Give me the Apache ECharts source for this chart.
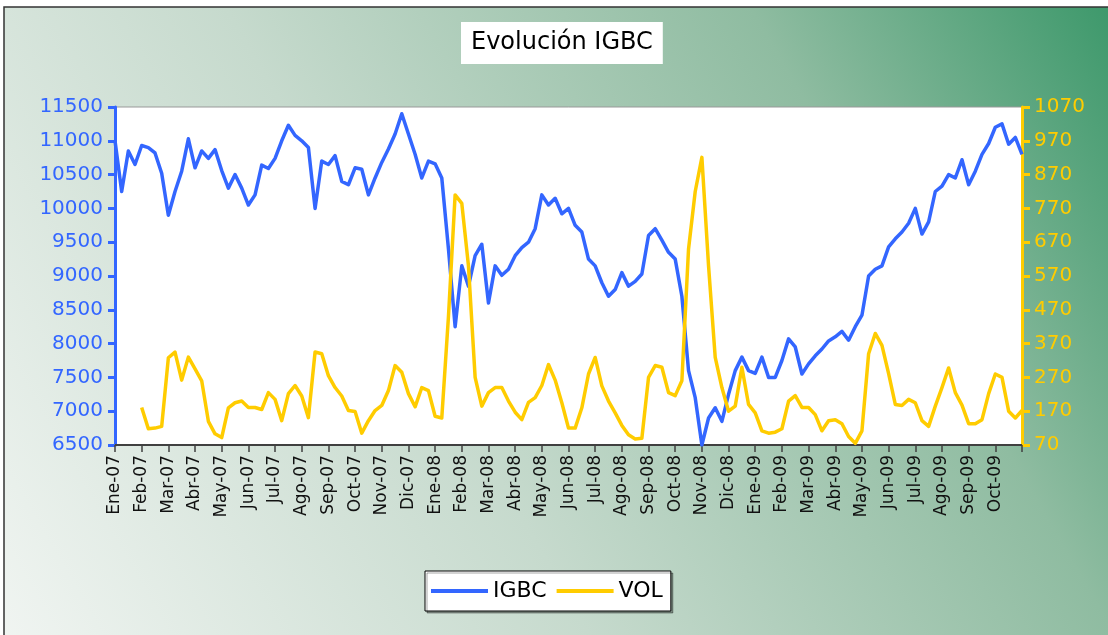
<!DOCTYPE html>
<html>
<head>
<meta charset="utf-8">
<title>Evolución IGBC</title>
<script src="https://cdn.jsdelivr.net/npm/echarts@6/dist/echarts.min.js"></script>
<style>
    html, body { margin: 0; padding: 0; background: #fff; }
    #graphe { width: 1108px; height: 635px; }
</style>
</head>
<body>
<div id="graphe"></div>
<script>
// etiquetas mensuales del eje X (4 puntos por mes)
const meses = ["Ene-07", "Feb-07", "Mar-07", "Abr-07", "May-07", "Jun-07", "Jul-07", "Ago-07", "Sep-07", "Oct-07", "Nov-07", "Dic-07",
    "Ene-08", "Feb-08", "Mar-08", "Abr-08", "May-08", "Jun-08", "Jul-08", "Ago-08", "Sep-08", "Oct-08", "Nov-08", "Dic-08",
    "Ene-09", "Feb-09", "Mar-09", "Abr-09", "May-09", "Jun-09", "Jul-09", "Ago-09", "Sep-09", "Oct-09"];
const puntosPorMes = 4;

const igbc = [
    11000, 10250, 10850, 10650, 10930, 10900, 10820, 10520,
    9900, 10250, 10550, 11030, 10600, 10850, 10740, 10870,
    10560, 10300, 10500, 10300, 10050, 10200, 10640, 10590,
    10740, 11000, 11230, 11080, 11000, 10900, 10000, 10700,
    10650, 10780, 10400, 10350, 10600, 10580, 10200, 10450,
    10680, 10880, 11100, 11400, 11100, 10800, 10450, 10700,
    10660, 10450, 9400, 8250, 9150, 8850, 9300, 9470,
    8600, 9150, 9010, 9100, 9300, 9420, 9500, 9700,
    10200, 10050, 10150, 9920, 10000, 9750, 9650, 9250,
    9150, 8900, 8700, 8800, 9050, 8850, 8920, 9030,
    9600, 9700, 9530, 9350, 9250, 8700, 7600, 7200,
    6500, 6900, 7050, 6850, 7250, 7600, 7800, 7600,
    7560, 7800, 7500, 7500, 7750, 8070, 7950, 7550,
    7700, 7820, 7920, 8040, 8100, 8180, 8050, 8250,
    8420, 9000, 9100, 9150, 9430, 9550, 9650, 9780,
    10000, 9620, 9800, 10250, 10330, 10500, 10450, 10720,
    10350, 10550, 10800, 10960, 11200, 11250, 10950, 11050,
    10800
];

const vol = [
    null, null, null, null, 181, 118, 120, 125,
    328, 345, 262, 330, 295, 260, 140, 103,
    92, 180, 195, 200, 181, 181, 175, 225,
    205, 142, 222, 246, 215, 151, 345, 340,
    275, 240, 215, 172, 169, 105, 142, 172,
    187, 231, 305, 285, 222, 183, 240, 231,
    155, 150, 450, 810, 785, 600, 270, 185,
    225, 240, 240, 200, 167, 145, 196, 210,
    246, 308, 262, 195, 120, 120, 180, 280,
    329, 245, 200, 165, 128, 100, 88, 90,
    270, 305, 300, 225, 216, 260, 650, 820,
    921, 600, 329, 240, 170, 185, 300, 190,
    165, 112, 105, 108, 118, 200, 216, 181,
    181, 160, 112, 142, 145, 133, 95, 75,
    112, 340, 400, 365, 281, 190, 187, 205,
    195, 142, 125, 185, 240, 298, 225, 188,
    133, 133, 145, 222, 280, 270, 170, 150,
    172
];

const azul = "#3366FF";
const amarillo = "#FFCC00";
const fuente = "DejaVu Sans";

const categorias = igbc.map((v, i) => (i % puntosPorMes === 0 && meses[i / puntosPorMes]) ? meses[i / puntosPorMes] : "");

const chart = echarts.init(document.getElementById("graphe"));
chart.setOption({
    animation: false,
    graphic: [{
        type: "rect",
        z: -10,
        shape: {x: 4, y: 7, width: 1120, height: 650},
        style: {
            fill: new echarts.graphic.LinearGradient(0, 1, 1, 0, [
                {offset: 0, color: "#f1f5f2"},
                {offset: 0.4, color: "#c6dacd"},
                {offset: 0.75, color: "#8fbca1"},
                {offset: 1, color: "#3a9769"}
            ]),
            stroke: "#333",
            lineWidth: 1.5
        }
    }],
    title: {
        text: "Evolución IGBC",
        left: 461,
        top: 22,
        padding: [9, 10, 9, 10],
        backgroundColor: "#fff",
        textStyle: {fontFamily: fuente, fontSize: 24, fontWeight: "normal", color: "#000"}
    },
    legend: {
        data: ["IGBC", "VOL"],
        left: 425,
        top: 571,
        backgroundColor: "#fff",
        borderColor: "#000",
        borderWidth: 1,
        padding: [9, 8, 9, 6],
        itemGap: 10,
        itemWidth: 57,
        itemHeight: 4,
        icon: "rect",
        shadowColor: "rgba(0,0,0,0.35)",
        shadowOffsetX: 2,
        shadowOffsetY: 2,
        textStyle: {fontFamily: fuente, fontSize: 22, color: "#000"}
    },
    grid: {
        left: 115, right: 86, top: 107, bottom: 190,
        show: true, backgroundColor: "#fff", borderColor: "#999", borderWidth: 1
    },
    xAxis: {
        type: "category",
        data: categorias,
        boundaryGap: false,
        axisLine: {lineStyle: {color: "#404040", width: 2}},
        axisTick: {interval: puntosPorMes - 1, length: 7, lineStyle: {color: "#404040", width: 1.5}},
        axisLabel: {interval: puntosPorMes - 1, rotate: 90, margin: 10, color: "#111", fontFamily: fuente, fontSize: 17},
        splitLine: {show: false}
    },
    yAxis: [{
        type: "value",
        min: 6500, max: 11500, interval: 500,
        axisLine: {show: true, lineStyle: {color: azul, width: 3}},
        axisTick: {show: true, length: 7, lineStyle: {color: azul, width: 3}},
        axisLabel: {color: azul, margin: 12, fontFamily: fuente, fontSize: 20, formatter: v => String(v)},
        splitLine: {show: false}
    }, {
        type: "value",
        position: "right",
        min: 70, max: 1070, interval: 100,
        axisLine: {show: true, lineStyle: {color: amarillo, width: 3}},
        axisTick: {show: true, length: 8, lineStyle: {color: amarillo, width: 3}},
        axisLabel: {color: amarillo, margin: 12, fontFamily: fuente, fontSize: 20, formatter: v => String(v)},
        splitLine: {show: false}
    }],
    series: [{
        name: "IGBC",
        type: "line",
        yAxisIndex: 0,
        data: igbc,
        showSymbol: false,
        itemStyle: {color: azul},
        lineStyle: {color: azul, width: 3.5, join: "round"}
    }, {
        name: "VOL",
        type: "line",
        yAxisIndex: 1,
        data: vol,
        showSymbol: false,
        itemStyle: {color: amarillo},
        lineStyle: {color: amarillo, width: 3.5, join: "round"}
    }]
});
</script>
</body>
</html>
